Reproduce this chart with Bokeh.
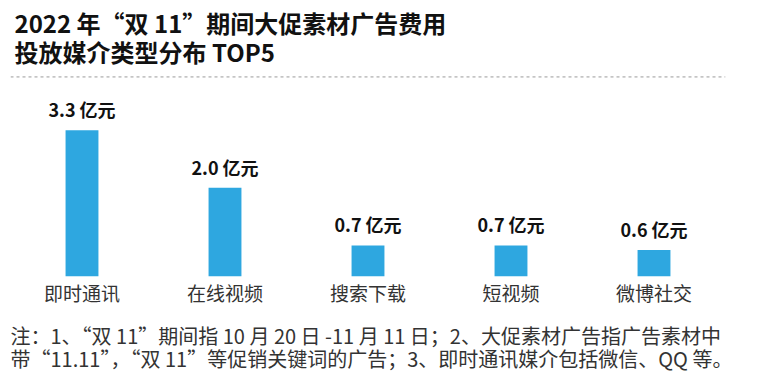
from bokeh.plotting import figure
from bokeh.models import Title, Span, ColumnDataSource, Range1d, FactorRange
from bokeh.core.properties import value
from bokeh.embed import file_html
from bokeh.resources import INLINE

title_lines = ["2022 年“双 11”期间大促素材广告费用", "投放媒介类型分布 TOP5"]
categories = ["即时通讯", "在线视频", "搜索下载", "短视频", "微博社交"]
values = [3.3, 2.0, 0.7, 0.7, 0.6]
unit = "亿元"
footnotes = [
    "注：1、“双 11”期间指 10 月 20 日 -11 月 11 日；2、大促素材广告指广告素材中",
    "带“11.11”，“双 11”等促销关键词的广告；3、即时通讯媒介包括微信、QQ 等。",
]

FONT = "Noto Sans CJK SC"
BAR_COLOR = "#2ea7e0"
Y_MAX = 4.6      # top of the value axis
SEP_Y = 4.5      # height of the dashed separator under the title

source = ColumnDataSource(dict(
    cat=categories,
    val=values,
    label=[f"{v:.1f} {unit}" for v in values],
))

p = figure(
    x_range=FactorRange(*categories),
    y_range=Range1d(0, Y_MAX),
    frame_width=715, frame_height=204,
    min_border_left=10, min_border_right=38,
    min_border_top=64, min_border_bottom=103,
    output_backend="svg", toolbar_location=None, title=None,
)
p.outline_line_color = None
p.xgrid.visible = False
p.ygrid.visible = False
p.yaxis.visible = False
p.background_fill_color = "white"
p.border_fill_color = "white"

# dashed separator under the title
p.add_layout(Span(location=SEP_Y, dimension="width", line_color="#9a9a9a",
                  line_dash="3 3", line_width=1))

p.vbar(x="cat", top="val", width=0.23, source=source, color=BAR_COLOR, line_color=None)
p.text(x="cat", y="val", text="label", source=source, text_align="center",
       text_baseline="bottom", y_offset=-8, text_font=value(FONT),
       text_font_style="bold", text_font_size="18px", text_color="#111111")

xa = p.xaxis[0]
xa.axis_line_color = None
xa.major_tick_line_color = None
xa.minor_tick_line_color = None
xa.major_tick_out = 0
xa.major_label_standoff = 2
xa.major_label_text_font = FONT
xa.major_label_text_font_size = "19px"
xa.major_label_text_color = "#333333"

p.add_layout(Title(text="\n".join(title_lines), align="left", offset=4, standoff=6,
                   text_font=FONT, text_font_style="bold", text_font_size="24px",
                   text_line_height=0.84, text_color="#111111"), "above")

p.add_layout(Title(text="\n".join(footnotes), align="left", offset=0, standoff=22,
                   text_font=FONT, text_font_style="normal", text_font_size="20px",
                   text_line_height=0.8, text_color="#333333"), "below")

open("out.html", "w").write(file_html(p, INLINE))
